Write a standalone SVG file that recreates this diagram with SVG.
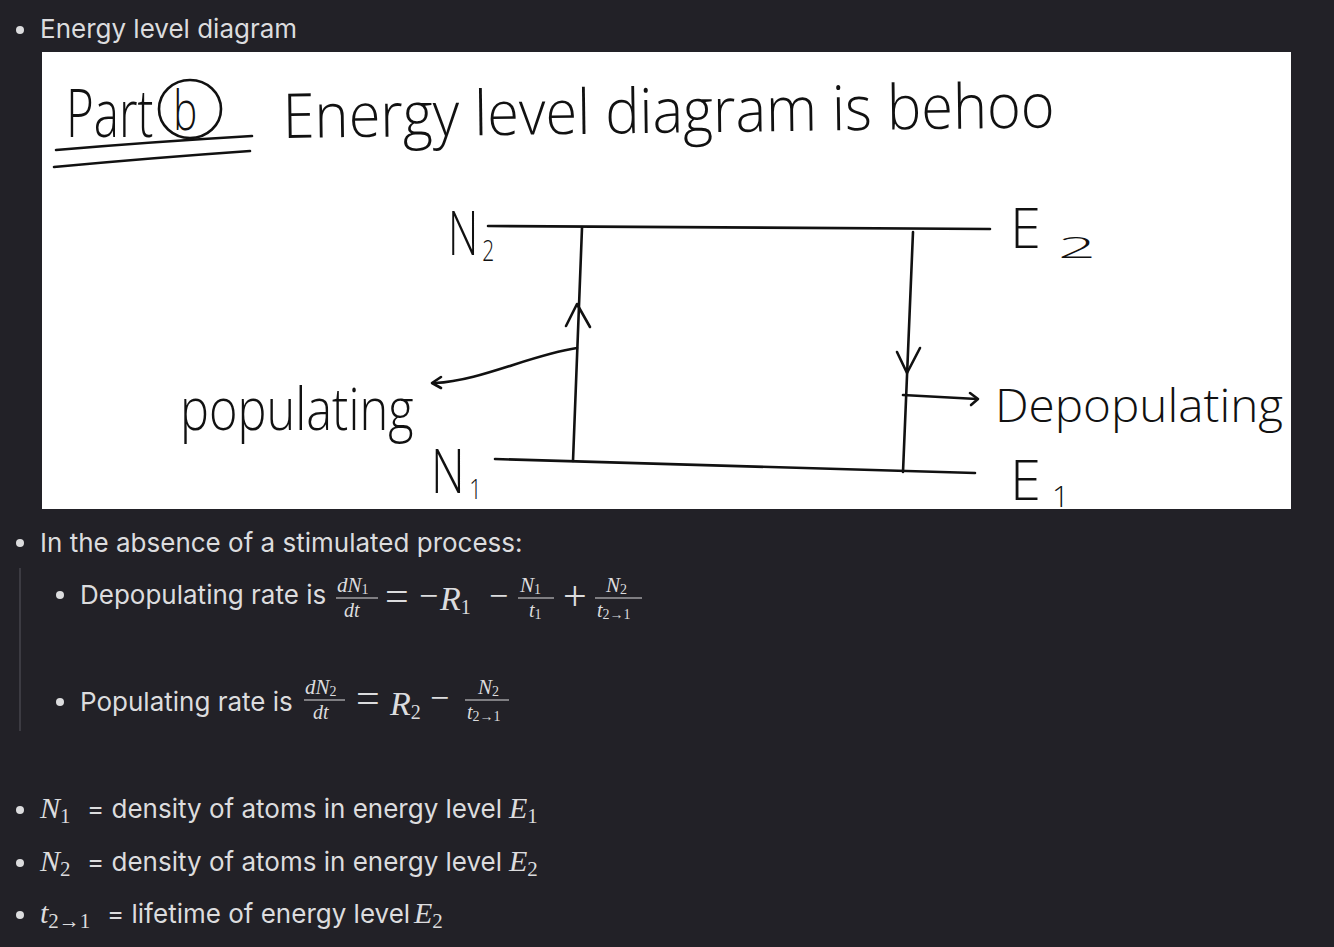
<svg xmlns="http://www.w3.org/2000/svg" width="1334" height="947" viewBox="0 0 1334 947">
<style>
.ui{font-family:Inter,"Noto Sans",sans-serif;font-size:26px;fill:#dcdcde}
.m{font-family:"Liberation Serif","DejaVu Serif",serif;fill:#dcdcde}
.mi{font-style:italic}
.hw{font-family:"Open Sans","DejaVu Sans",sans-serif;font-weight:300;fill:#111}
.ink{fill:none;stroke:#111;stroke-width:2.6;stroke-linecap:round;stroke-linejoin:round}
.bar{stroke:#dcdcde;stroke-width:1.2}
.dot{fill:#dcdcde}
</style>
<rect width="1334" height="947" fill="#222127"/>

<g id="heading">
<circle class="dot" cx="20" cy="30" r="4"/>
<text class="ui" x="40" y="38">Energy level diagram</text>
</g>

<g id="panel">
<rect x="42" y="52" width="1249" height="457" fill="#ffffff"/>
</g>

<g id="title">
<text class="hw" font-size="66" transform="translate(66,137) scale(0.72,1)">Part<tspan x="149" dy="-7" font-size="56">b</tspan></text>
<ellipse class="ink" cx="190" cy="109" rx="31" ry="29"/>
<path class="ink" d="M56,150 Q150,142 252,136"/>
<path class="ink" d="M54,167 Q150,158 250,151"/>
<text class="hw" x="283" y="138" font-size="62" textLength="772" lengthAdjust="spacingAndGlyphs" transform="rotate(-0.8 283 138)">Energy level diagram is behoo</text>
</g>

<g id="level-E2">
<path class="ink" d="M488,226 L990,229"/>
<text class="hw" font-size="60" transform="translate(448,255) scale(0.7,1)">N<tspan x="49" dy="6" font-size="30">2</tspan></text>
<text class="hw" x="1010" y="248" font-size="56">E</text>
<text class="hw" x="1058" y="258" font-size="30" textLength="38" lengthAdjust="spacingAndGlyphs">2</text>
</g>

<g id="level-E1">
<path class="ink" d="M495,459 L975,473"/>
<text class="hw" font-size="60" transform="translate(431,493) scale(0.78,1)">N<tspan x="49" dy="6" font-size="28">1</tspan></text>
<text class="hw" x="1010" y="500" font-size="56">E</text>
<text class="hw" x="1052" y="507" font-size="30">1</text>
</g>

<g id="connectors">
<path class="ink" d="M582,228 L573,461"/>
<path class="ink" d="M566,326 L577,304 L590,327"/>
<path class="ink" d="M913,232 L903,472"/>
<path class="ink" d="M897,352 L907,373 L920,348"/>
<path class="ink" stroke-width="2" d="M577,348 C530,355 480,381 435,383"/>
<path class="ink" stroke-width="2" d="M441,377 L432,383 L441,388"/>
<path class="ink" stroke-width="2" d="M903,395 L977,399"/>
<path class="ink" stroke-width="2" d="M970,393 L978,399 L971,405"/>
</g>

<g id="label-populating">
<text class="hw" font-size="58" transform="translate(180,430) scale(0.84,1)">populating</text>
</g>
<g id="label-depopulating">
<text class="hw" x="995" y="422" font-size="46" textLength="288" lengthAdjust="spacingAndGlyphs">Depopulating</text>
</g>

<g id="list1">
<circle class="dot" cx="20" cy="543" r="4"/>
<text class="ui" x="40" y="552">In the absence of a stimulated process:</text>
<line x1="20" y1="568" x2="20" y2="731" stroke="#3c3b42" stroke-width="2"/>

<circle class="dot" cx="60" cy="595" r="4"/>
<text class="ui" x="80" y="604">Depopulating rate is</text>
<text class="m mi" x="337" y="592" font-size="21">dN<tspan font-size="14" font-style="normal" dy="2">1</tspan></text>
<line class="bar" x1="336" y1="598" x2="378" y2="598"/>
<text class="m mi" x="344" y="617" font-size="20">dt</text>
<text class="m" x="385" y="610" font-size="42">=</text>
<text class="m" x="419" y="607" font-size="34">−</text>
<text class="m mi" x="440" y="610" font-size="34">R<tspan font-size="20" font-style="normal" dy="4">1</tspan></text>
<text class="m" x="489" y="607" font-size="34">−</text>
<text class="m mi" x="520" y="592" font-size="21">N<tspan font-size="14" font-style="normal" dy="2">1</tspan></text>
<line class="bar" x1="518" y1="598" x2="554" y2="598"/>
<text class="m mi" x="529" y="617" font-size="20">t<tspan font-size="14" font-style="normal" dy="2">1</tspan></text>
<text class="m" x="563" y="610" font-size="42">+</text>
<text class="m mi" x="606" y="592" font-size="21">N<tspan font-size="14" font-style="normal" dy="2">2</tspan></text>
<line class="bar" x1="595" y1="598" x2="642" y2="598"/>
<text class="m mi" x="597" y="617" font-size="20">t<tspan font-size="14" font-style="normal" dy="2">2→1</tspan></text>

<circle class="dot" cx="60" cy="702" r="4"/>
<text class="ui" x="80" y="711">Populating rate is</text>
<text class="m mi" x="305" y="694" font-size="21">dN<tspan font-size="14" font-style="normal" dy="2">2</tspan></text>
<line class="bar" x1="304" y1="700" x2="345" y2="700"/>
<text class="m mi" x="313" y="719" font-size="20">dt</text>
<text class="m" x="356" y="712" font-size="42">=</text>
<text class="m mi" x="390" y="715" font-size="34">R<tspan font-size="20" font-style="normal" dy="4">2</tspan></text>
<text class="m" x="430" y="709" font-size="34">−</text>
<text class="m mi" x="478" y="694" font-size="21">N<tspan font-size="14" font-style="normal" dy="2">2</tspan></text>
<line class="bar" x1="465" y1="700" x2="509" y2="700"/>
<text class="m mi" x="467" y="719" font-size="20">t<tspan font-size="14" font-style="normal" dy="2">2→1</tspan></text>
</g>

<g id="list2">
<circle class="dot" cx="20" cy="810" r="4"/>
<text class="m mi" x="40" y="818" font-size="30">N<tspan font-size="21" font-style="normal" dy="5">1</tspan></text>
<text class="ui" x="87" y="818">= density of atoms in energy level</text>
<text class="m mi" x="509" y="818" font-size="30">E<tspan font-size="21" font-style="normal" dy="5">1</tspan></text>

<circle class="dot" cx="20" cy="863" r="4"/>
<text class="m mi" x="40" y="871" font-size="30">N<tspan font-size="21" font-style="normal" dy="5">2</tspan></text>
<text class="ui" x="87" y="871">= density of atoms in energy level</text>
<text class="m mi" x="509" y="871" font-size="30">E<tspan font-size="21" font-style="normal" dy="5">2</tspan></text>

<circle class="dot" cx="20" cy="915" r="4"/>
<text class="m mi" x="40" y="923" font-size="30">t<tspan font-size="21" font-style="normal" dy="5">2→1</tspan></text>
<text class="ui" x="107" y="923">= lifetime of energy level</text>
<text class="m mi" x="414" y="923" font-size="30">E<tspan font-size="21" font-style="normal" dy="5">2</tspan></text>
</g>
</svg>
